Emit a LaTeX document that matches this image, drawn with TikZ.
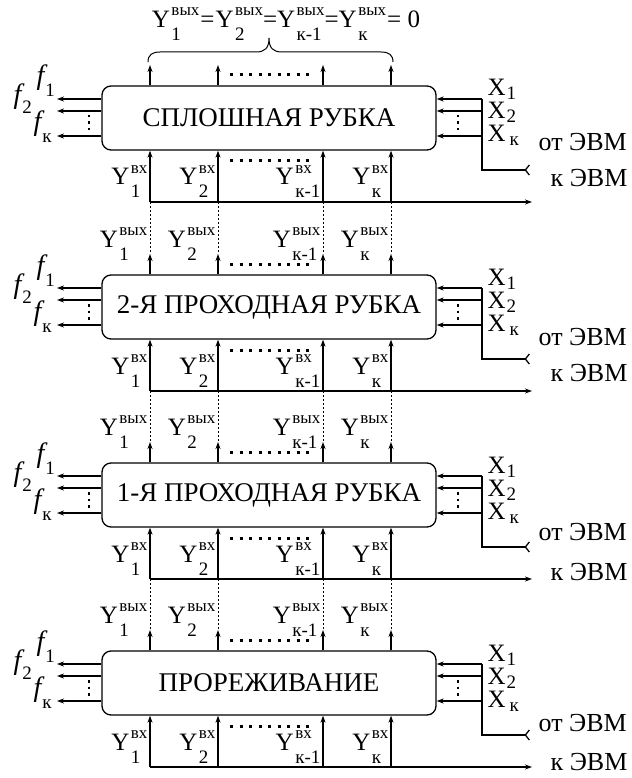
\documentclass[tikz,border=0pt]{standalone}
\usepackage{fontspec}
\setmainfont{Liberation Serif}
\usetikzlibrary{arrows.meta}

\newsavebox\supbx
\newsavebox\subbx
% Y with upper and lower index
\newcommand{\Ylab}[2]{%
  \sbox\supbx{\fontsize{17}{17}\selectfont #1}%
  \sbox\subbx{\fontsize{19}{19}\selectfont #2}%
  Y\kern1.5pt\rlap{\raisebox{12pt}{\usebox\supbx}}\raisebox{-13pt}{\usebox\subbx}%
  \ifdim\wd\supbx>\wd\subbx\kern\dimexpr\wd\supbx-\wd\subbx\relax\fi}
\newcommand{\flab}[2]{{\itshape\fontsize{28}{28}\selectfont f}\kern1pt\raisebox{-#2}{\fontsize{19}{19}\selectfont #1}}
\newcommand{\Xlab}[1]{X\kern1pt\raisebox{-4pt}{\fontsize{19}{19}\selectfont #1}}

\begin{document}
\begin{tikzpicture}[x=1pt, y=-1pt, line width=1.3pt,
    blk/.style={draw, rounded corners=9pt, minimum width=334pt, minimum height=64pt, inner sep=0pt, font=\fontsize{27}{30}\selectfont},
    lab/.style={inner sep=0pt, font=\fontsize{25}{30}\selectfont},
    side/.style={inner sep=0pt, anchor=west, font=\fontsize{26}{30}\selectfont},
    arr/.style={-{Stealth[length=7pt,width=5pt]}},
    back/.style={-{Straight Barb[reversed,length=4pt,width=10pt]}},
    vdots/.style={dash pattern=on 2.5pt off 4pt, line width=2.5pt},
    hdots/.style={dash pattern=on 3pt off 6.5pt, line width=3pt},
    link/.style={dash pattern=on 2pt off 2pt, line width=1pt}
  ]
  \useasboundingbox (0,0) rectangle (631,778);

  % top condition
  \node[lab, anchor=base] (eq) at (286,28) {\Ylab{вых}{1}\kern1pt=\kern1pt\Ylab{вых}{2}=\Ylab{вых}{к-1}=\Ylab{вых}{к}\kern1pt= 0};
  \draw[line width=1pt] (148,62) .. controls (148,55) and (152,52) .. (160,52) -- (256,52)
    .. controls (265,52) and (269,48) .. (269,38) .. controls (269,48) and (273,52) .. (282,52)
    -- (381,52) .. controls (389,52) and (393,55) .. (393,62);

  % blocks
  \foreach \i/\T/\name/\ot/\kl in {1/86/СПЛОШНАЯ РУБКА/56/92, 2/275/2-Я ПРОХОДНАЯ РУБКА/62/98,
      3/463/1-Я ПРОХОДНАЯ РУБКА/69/109, 4/651/ПРОРЕЖИВАНИЕ/72/111}{
    \pgfmathtruncatemacro\p{\i-1}
    \node[blk] (b\i) at (269,\T+32) {\name};

    % columns in and out
    \foreach \c/\x/\s in {1/150/1, 2/218/2, 3/323/к-1, 4/391/к}{
      \coordinate (bus\i-\c) at (\x,\T+116);
      \coordinate (up\i-\c) at (\x,\T-21);
      \draw[arr] (bus\i-\c) -- (bus\i-\c |- b\i.south);
      \draw[arr] (up\i-\c |- b\i.north) -- (up\i-\c);
      \node[lab, anchor=base east] (yin\i-\c) at (\x-2,\T+99) {\Ylab{вх}{\s}};
      \ifnum\i>1
        \draw[link] (bus\p-\c) -- (up\i-\c);
        \node[lab, anchor=base east] (yout\i-\c) at (\x-2,\T-28) {\Ylab{вых}{\s}};
      \fi
    }
    \draw[hdots] (230,\T-11) -- (312,\T-11);
    \draw[hdots] (230,\T+75) -- (312,\T+75);

    % bus to the computer
    \coordinate (ke\i) at (532,\T+116);
    \draw[arr] (bus\i-1) -- (ke\i);

    % left outputs, right inputs
    \foreach \j/\d in {1/13, 2/25, 3/50}{
      \coordinate (fo\i-\j) at (57,\T+\d);
      \coordinate (xi\i-\j) at (482,\T+\d);
      \draw[arr] (fo\i-\j -| b\i.west) -- (fo\i-\j);
      \draw[arr] (xi\i-\j) -- (xi\i-\j -| b\i.east);
    }
    \draw[vdots] (89,\T+29) -- (89,\T+46);
    \draw[vdots] (458,\T+29) -- (458,\T+46);
    \coordinate (xo\i) at (530,\T+84);
    \draw[back] (xi\i-1) |- (xo\i);

    \node[lab, anchor=base west] (f\i-1) at (36,\T-1) {\flab{1}{12pt}};
    \node[lab, anchor=base west] (f\i-2) at (13,\T+18) {\flab{2}{10pt}};
    \node[lab, anchor=base west] (f\i-3) at (33,\T+45) {\flab{к}{12pt}};
    \node[lab, anchor=base west] (x\i-1) at (487,\T+10) {\Xlab{1}};
    \node[lab, anchor=base west] (x\i-2) at (487,\T+33) {\Xlab{2}};
    \node[lab, anchor=base west] (x\i-3) at (487,\T+56) {\Xlab{\kern3pt к}};
    \node[side] (ot\i) at (538,\T+\ot) {от ЭВМ};
    \node[side] (kl\i) at (550,\T+\kl) {к ЭВМ};
  }
\end{tikzpicture}
\end{document}
